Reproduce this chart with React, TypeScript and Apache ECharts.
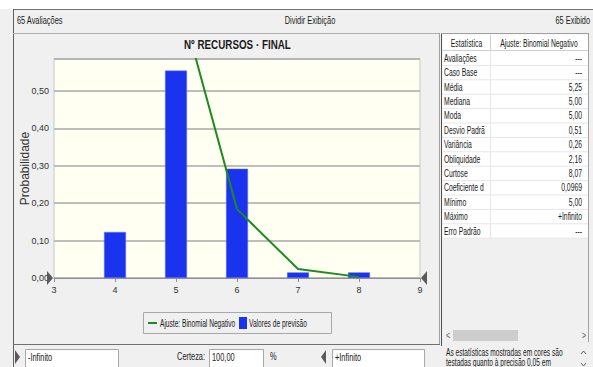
import React, { useEffect, useRef } from "react";
import * as echarts from "echarts";

const FONT = "'Liberation Sans', Arial, sans-serif";

const chartTitle = "Nº RECURSOS · FINAL";
const forecastX = [4, 5, 6, 7, 8];
const forecastValues = [0.123, 0.554, 0.292, 0.015, 0.015];
const fitX = [5, 6, 7, 8];
const fitValues = [0.78, 0.184, 0.024, 0.003];
const yTicks = [0, 0.1, 0.2, 0.3, 0.4, 0.5];
const fitName = "Ajuste: Binomial Negativo";
const forecastName = "Valores de previsão";

const statNames = [
  "Avaliações", "Caso Base", "Média", "Mediana", "Moda", "Desvio Padrã", "Variância",
  "Obliquidade", "Curtose", "Coeficiente d", "Mínimo", "Máximo", "Erro Padrão",
];
const statValues = [
  "---", "---", "5,25", "5,00", "5,00", "0,51", "0,26", "2,16", "8,07", "0,0969", "5,00", "+Infinito", "---",
];

const GREEN = "#1f8a1f";
const BLUE = "#1a33ee";

export default function App() {
  const ref = useRef<HTMLDivElement>(null);
  useEffect(() => {
    if (!ref.current) return;
    const chart = echarts.init(ref.current, undefined, { renderer: "svg" });
    const txt = (x: number, y: number, text: string, opts: any = {}) => ({
      type: "text",
      x,
      y,
      z: 50,
      scaleX: opts.scale ?? 0.74,
      style: {
        text,
        fill: opts.fill || "#1a1a1a",
        font: `${opts.weight || "normal"} ${opts.size || 10}px ${FONT}`,
        textAlign: opts.align || "left",
        textVerticalAlign: "middle",
      },
    });
    const ln = (x1: number, y1: number, x2: number, y2: number, color: string, w = 1) => ({
      type: "line",
      z: 40,
      shape: { x1, y1, x2, y2 },
      style: { stroke: color, lineWidth: w },
    });
    const rect = (x: number, y: number, width: number, height: number, fill: string, stroke?: string) => ({
      type: "rect",
      z: 30,
      shape: { x, y, width, height },
      style: { fill, stroke: stroke || null, lineWidth: 1 },
    });

    const rowTop = 51;
    const rowH = 14.4;
    const TS = 0.68;
    const tableEls: any[] = [];
    tableEls.push(rect(442.5, 51, 146, rowH * statNames.length, "#ffffff"));
    statNames.forEach((n, i) => {
      const cy = rowTop + rowH * i + rowH / 2;
      tableEls.push(txt(444, cy, n, { scale: TS }));
      tableEls.push(txt(582, cy, statValues[i], { align: "right", scale: TS }));
      tableEls.push(ln(442, rowTop + rowH * (i + 1), 588, rowTop + rowH * (i + 1), "#e6e6e6"));
    });
    tableEls.push(ln(490.5, 51, 490.5, rowTop + rowH * statNames.length, "#e6e6e6"));

    const graphics: any[] = [
      // outer borders
      ln(13, 9.5, 593, 9.5, "#707070"),
      ln(13.5, 9, 13.5, 367, "#606060"),
      // top bar texts
      txt(17, 21, "65 Avaliações"),
      txt(310, 21, "Dividir Exibição", { align: "center" }),
      txt(590, 21, "65 Exibido", { align: "right" }),
      // chart panel borders
      ln(13, 33.5, 440, 33.5, "#b0b0b0"),
      ln(439.5, 33, 439.5, 345, "#a0a0a0"),
      ln(13, 344.5, 440, 344.5, "#707070"),
      // title
      txt(184, 45, chartTitle, { weight: "bold", size: 12, scale: 0.82 }),
      // certainty grabbers on plot
      {
        type: "polygon",
        z: 60,
        shape: { points: [[47, 271], [53, 278], [47, 285]] },
        style: { fill: "#5a5a5a" },
      },
      {
        type: "polygon",
        z: 60,
        shape: { points: [[427, 271], [421, 278], [427, 285]] },
        style: { fill: "#5a5a5a" },
      },
      // legend (custom drawn box)
      rect(143.5, 312.5, 188, 21, "#f0f0f0", "#a8a8a8"),
      ln(148, 323, 157, 323, GREEN, 2),
      txt(160, 323, fitName, { scale: 0.66 }),
      rect(239, 317, 8, 12, BLUE),
      txt(249, 323, forecastName, { scale: 0.66 }),
      // right panel
      ln(441.5, 33, 441.5, 346, "#505050"),
      ln(441, 33.5, 589, 33.5, "#a0a0a0"),
      ln(588.5, 33, 588.5, 342, "#a0a0a0"),
      rect(442.5, 34.5, 146, 16, "#ffffff"),
      ln(442, 50.5, 588, 50.5, "#d0d0d0"),
      ln(490.5, 35, 490.5, 50, "#d0d0d0"),
      txt(466.5, 43, "Estatística", { align: "center", scale: TS }),
      txt(539, 43, "Ajuste: Binomial Negativo", { align: "center", scale: TS }),
      ...tableEls,
      // scrollbar
      rect(442.5, 329.5, 146, 12, "#f0f0f0"),
      rect(453, 330, 65, 11, "#cdcdcd"),
      txt(446, 336, "<", { fill: "#606060" }),
      txt(586, 336, ">", { fill: "#606060", align: "right" }),
      // note text
      rect(442, 343, 151, 24, "#f0f0f0"),
      txt(446, 352, "As estatísticas mostradas em cores são", { scale: 0.66 }),
      txt(446, 362.5, "testadas quanto à precisão 0,05 em", { scale: 0.66 }),
      {
        type: "polyline",
        z: 50,
        shape: { points: [[581, 354], [583.5, 351], [586, 354]] },
        style: { stroke: "#606060", lineWidth: 1, fill: null },
      },
      {
        type: "polyline",
        z: 50,
        shape: { points: [[581, 363], [583.5, 366], [586, 363]] },
        style: { stroke: "#606060", lineWidth: 1, fill: null },
      },
      // bottom bar
      {
        type: "polygon",
        z: 60,
        shape: { points: [[15, 350], [20, 357], [15, 364]] },
        style: { fill: "#5a5a5a" },
      },
      rect(25.5, 349.5, 93, 18, "#ffffff", "#a8a8a8"),
      txt(28, 358, "-Infinito"),
      txt(205, 357, "Certeza:", { align: "right" }),
      rect(209.5, 349.5, 54, 18, "#ffffff", "#a8a8a8"),
      txt(212, 358, "100,00"),
      txt(270, 357, "%"),
      {
        type: "polygon",
        z: 60,
        shape: { points: [[326, 350], [321, 357], [326, 364]] },
        style: { fill: "#5a5a5a" },
      },
      rect(332.5, 349.5, 92, 18, "#ffffff", "#a8a8a8"),
      txt(335, 358, "+Infinito"),
    ];

    const fmt = (v: number) => v.toFixed(2).replace(".", ",");

    chart.setOption({
      animation: false,
      textStyle: { fontFamily: FONT },
      grid: {
        left: 54,
        top: 59,
        right: 173,
        bottom: 89,
        show: true,
        backgroundColor: "#fffff2",
        borderColor: "#c8c8c8",
        borderWidth: 1,
      },
      legend: { show: false, data: [fitName, forecastName] },
      xAxis: {
        type: "value",
        min: 3,
        max: 9,
        interval: 1,
        splitLine: { show: false },
        axisLine: { lineStyle: { color: "#909090" } },
        axisTick: { length: 4, lineStyle: { color: "#909090" } },
        axisLabel: { fontSize: 9, color: "#303030", margin: 7 },
      },
      yAxis: {
        type: "value",
        min: 0,
        max: 0.585,
        interval: 0.1,
        name: "Probabilidade",
        nameLocation: "middle",
        nameGap: 23,
        nameMoveOverlap: false,
        nameTextStyle: { fontSize: 12, color: "#303030", fontFamily: FONT },
        axisLine: { show: false },
        axisTick: { show: false },
        splitLine: { lineStyle: { color: "#a8a8a8", width: 1.5 } },
        axisLabel: {
          fontSize: 9,
          color: "#303030",
          margin: 5,
          showMaxLabel: false,
          formatter: (v: number) => {
            const ok = yTicks.some((t) => Math.abs(t - v) < 1e-6);
            return ok ? fmt(v) : "";
          },
        },
      },
      series: [
        {
          name: fitName,
          type: "line",
          data: fitX.map((x, i) => [x, fitValues[i]]),
          symbol: "none",
          clip: true,
          z: 5,
          itemStyle: { color: GREEN },
          lineStyle: { color: GREEN, width: 2 },
        },
        {
          name: forecastName,
          type: "bar",
          data: forecastX.map((x, i) => [x, forecastValues[i]]),
          barWidth: 22,
          z: 3,
          itemStyle: { color: BLUE, borderColor: "#6a7cf0", borderWidth: 0.5 },
        },
      ],
      graphic: graphics,
    });
    return () => chart.dispose();
  }, []);
  return (
    <div
      ref={ref}
      style={{
        position: "fixed",
        left: 0,
        top: 0,
        width: 593,
        height: 367,
        background: "linear-gradient(#ffffff 0px, #ffffff 9px, #f0f0f0 9px)",
      }}
    />
  );
}
